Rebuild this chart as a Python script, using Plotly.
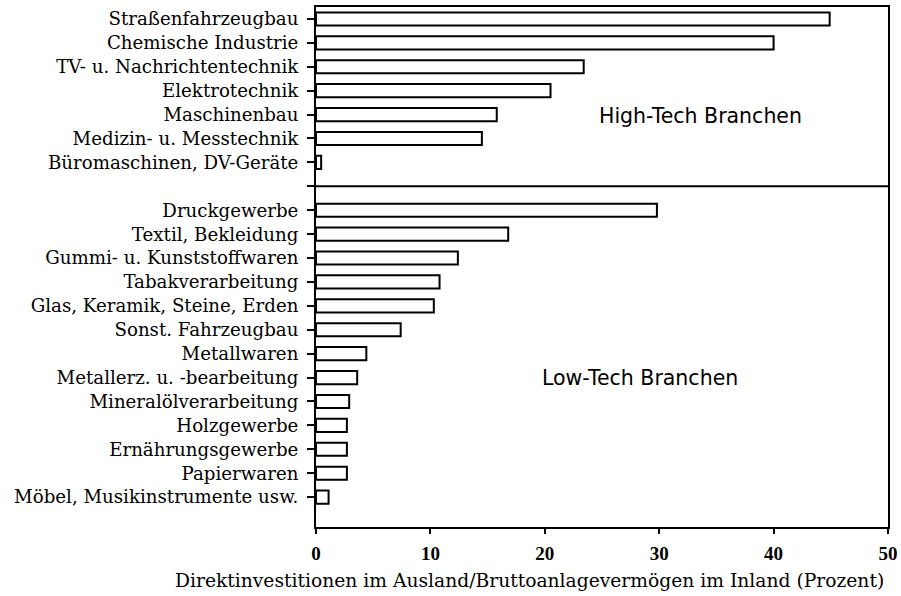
import plotly.graph_objects as go

high_labels = ["Straßenfahrzeugbau", "Chemische Industrie", "TV- u. Nachrichtentechnik",
               "Elektrotechnik", "Maschinenbau", "Medizin- u. Messtechnik",
               "Büromaschinen, DV-Geräte"]
high_values = [44.9, 40.0, 23.4, 20.5, 15.8, 14.5, 0.45]

low_labels = ["Druckgewerbe", "Textil, Bekleidung", "Gummi- u. Kunststoffwaren",
              "Tabakverarbeitung", "Glas, Keramik, Steine, Erden", "Sonst. Fahrzeugbau",
              "Metallwaren", "Metallerz. u. -bearbeitung", "Mineralölverarbeitung",
              "Holzgewerbe", "Ernährungsgewerbe", "Papierwaren",
              "Möbel, Musikinstrumente usw."]
low_values = [29.8, 16.8, 12.4, 10.8, 10.3, 7.4, 4.4, 3.6, 2.9, 2.7, 2.7, 2.7, 1.1]

x_ticks = [0, 10, 20, 30, 40, 50]
x_title = "Direktinvestitionen im Ausland/Bruttoanlagevermögen im Inland (Prozent)"
group_titles = ["High-Tech Branchen", "Low-Tech Branchen"]

# positions: high-tech rows, one empty slot (separator), low-tech rows
high_pos = list(range(len(high_labels)))
sep_pos = len(high_labels)
low_pos = [sep_pos + 1 + i for i in range(len(low_labels))]

serif = "DejaVu Serif"

fig = go.Figure()
fig.add_trace(go.Bar(
    x=high_values + low_values,
    y=high_pos + low_pos,
    orientation="h",
    width=0.55,
    marker=dict(color="white", line=dict(color="black", width=2)),
    showlegend=False,
    hoverinfo="skip",
))

tickvals = high_pos + [sep_pos] + low_pos
ticktext = high_labels + [""] + low_labels

fig.update_layout(
    width=901, height=596,
    margin=dict(l=316, r=13, t=7, b=69),
    plot_bgcolor="white", paper_bgcolor="white",
    font=dict(family=serif, color="black", size=17),
)
fig.update_yaxes(
    range=[low_pos[-1] + 1.25, -0.5],
    tickvals=tickvals, ticktext=ticktext,
    ticks="outside", ticklen=7, tickwidth=1.5, tickcolor="black",
    showline=True, linecolor="black", linewidth=2, mirror=True,
    showgrid=False, zeroline=False, automargin=False,
    tickfont=dict(family=serif, size=18.2, color="black"),
    ticklabelstandoff=5,
)
fig.update_xaxes(
    range=[0, 50],
    tickvals=x_ticks, ticktext=[str(v) for v in x_ticks],
    ticks="outside", ticklen=5, tickwidth=2, tickcolor="black",
    showline=True, linecolor="black", linewidth=2, mirror=True,
    showgrid=False, zeroline=False, automargin=False,
    tickfont=dict(family="Liberation Serif", size=19, color="black", weight="bold"),
    ticklabelstandoff=3,
)

# separator between groups
fig.add_shape(type="line", xref="x domain", yref="y", x0=0, x1=1, y0=sep_pos, y1=sep_pos,
              line=dict(color="black", width=2))

fig.add_annotation(x=33.6, y=4.05, xref="x", yref="y", text=group_titles[0],
                   showarrow=False,
                   font=dict(family="DejaVu Sans", size=20.5, color="black"))
fig.add_annotation(x=28.3, y=15.0, xref="x", yref="y", text=group_titles[1],
                   showarrow=False,
                   font=dict(family="DejaVu Sans", size=20.5, color="black"))

fig.add_annotation(x=0.374, y=-0.102, xref="paper", yref="paper", text=x_title, showarrow=False,
                   xanchor="center", yanchor="middle",
                   font=dict(family=serif, size=18.7, color="black"))

fig.write_html(
    "out.html",
    config={"displayModeBar": False},
    post_script="document.body.style.margin='0';document.body.style.overflow='hidden';",
)
